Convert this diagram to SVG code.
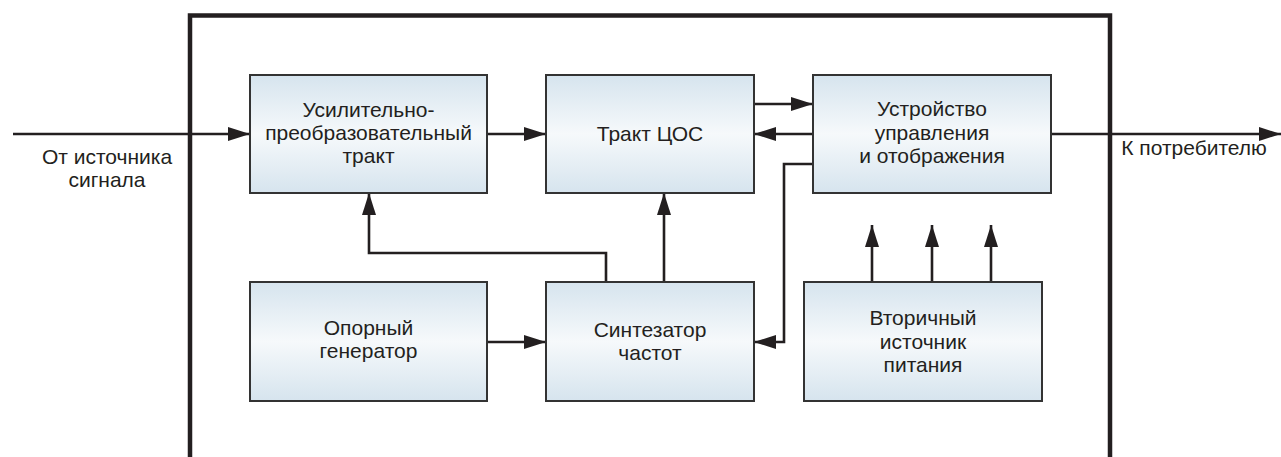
<svg xmlns="http://www.w3.org/2000/svg" width="1281" height="457" viewBox="0 0 1281 457">
<style>
.box{stroke:#333;stroke-width:2;fill:url(#g)}
.t{font-family:"Liberation Sans",Arial,sans-serif;font-size:21px;fill:#231f20;text-anchor:middle}
.c{fill:none;stroke:#231f20;stroke-width:2.6}
.a{marker-end:url(#ah)}
</style>
<defs>
<linearGradient id="g" x1="0" y1="0" x2="0" y2="1">
<stop offset="0" stop-color="#d6e4ee"/>
<stop offset="0.5" stop-color="#f6f9fb"/>
<stop offset="1" stop-color="#d6e4ee"/>
</linearGradient>
<marker id="ah" markerUnits="userSpaceOnUse" markerWidth="22" markerHeight="14" refX="22" refY="7" orient="auto">
<path d="M0,0 L22,7 L0,14 z" fill="#231f20"/>
</marker>
</defs>
<rect width="1281" height="457" fill="#fff"/>
<g id="frame">
<path d="M190,457 V15.5 H1110 V457" fill="none" stroke="#231f20" stroke-width="4.5"/>
</g>
<g id="connectors">
<path class="c a" d="M13,134 H250"/>
<path class="c a" d="M487,134 H546"/>
<path class="c a" d="M754,104 H813"/>
<path class="c a" d="M813,134 H754"/>
<path class="c a" d="M1051,134 H1281"/>
<path class="c a" d="M813,164 H784 V342 H754"/>
<path class="c a" d="M664,282 V193"/>
<path class="c a" d="M606,282 V253 H369 V193"/>
<path class="c a" d="M487,342 H546"/>
<path class="c a" d="M872,282 V225"/>
<path class="c a" d="M932,282 V225"/>
<path class="c a" d="M991,282 V225"/>
</g>
<g id="labels">
<text class="t" x="107" y="164">От источника</text>
<text class="t" x="107" y="187">сигнала</text>
<text class="t" x="1194" y="155">К потребителю</text>
</g>
<g id="n1">
<rect class="box" x="250" y="75" width="237" height="118"/>
<text class="t" x="368.5" y="117">Усилительно-</text>
<text class="t" x="368.5" y="140">преобразовательный</text>
<text class="t" x="368.5" y="163">тракт</text>
</g>
<g id="n2">
<rect class="box" x="546" y="75" width="208" height="118"/>
<text class="t" x="650" y="141">Тракт ЦОС</text>
</g>
<g id="n3">
<rect class="box" x="813" y="75" width="238" height="118"/>
<text class="t" x="932" y="116">Устройство</text>
<text class="t" x="932" y="139.5">управления</text>
<text class="t" x="932" y="163">и отображения</text>
</g>
<g id="n4">
<rect class="box" x="250" y="282" width="237" height="119"/>
<text class="t" x="368.5" y="335">Опорный</text>
<text class="t" x="368.5" y="358">генератор</text>
</g>
<g id="n5">
<rect class="box" x="546" y="282" width="208" height="119"/>
<text class="t" x="650" y="337">Синтезатор</text>
<text class="t" x="650" y="360">частот</text>
</g>
<g id="n6">
<rect class="box" x="804" y="282" width="238" height="119"/>
<text class="t" x="923" y="325">Вторичный</text>
<text class="t" x="923" y="348.5">источник</text>
<text class="t" x="923" y="372">питания</text>
</g>
</svg>
